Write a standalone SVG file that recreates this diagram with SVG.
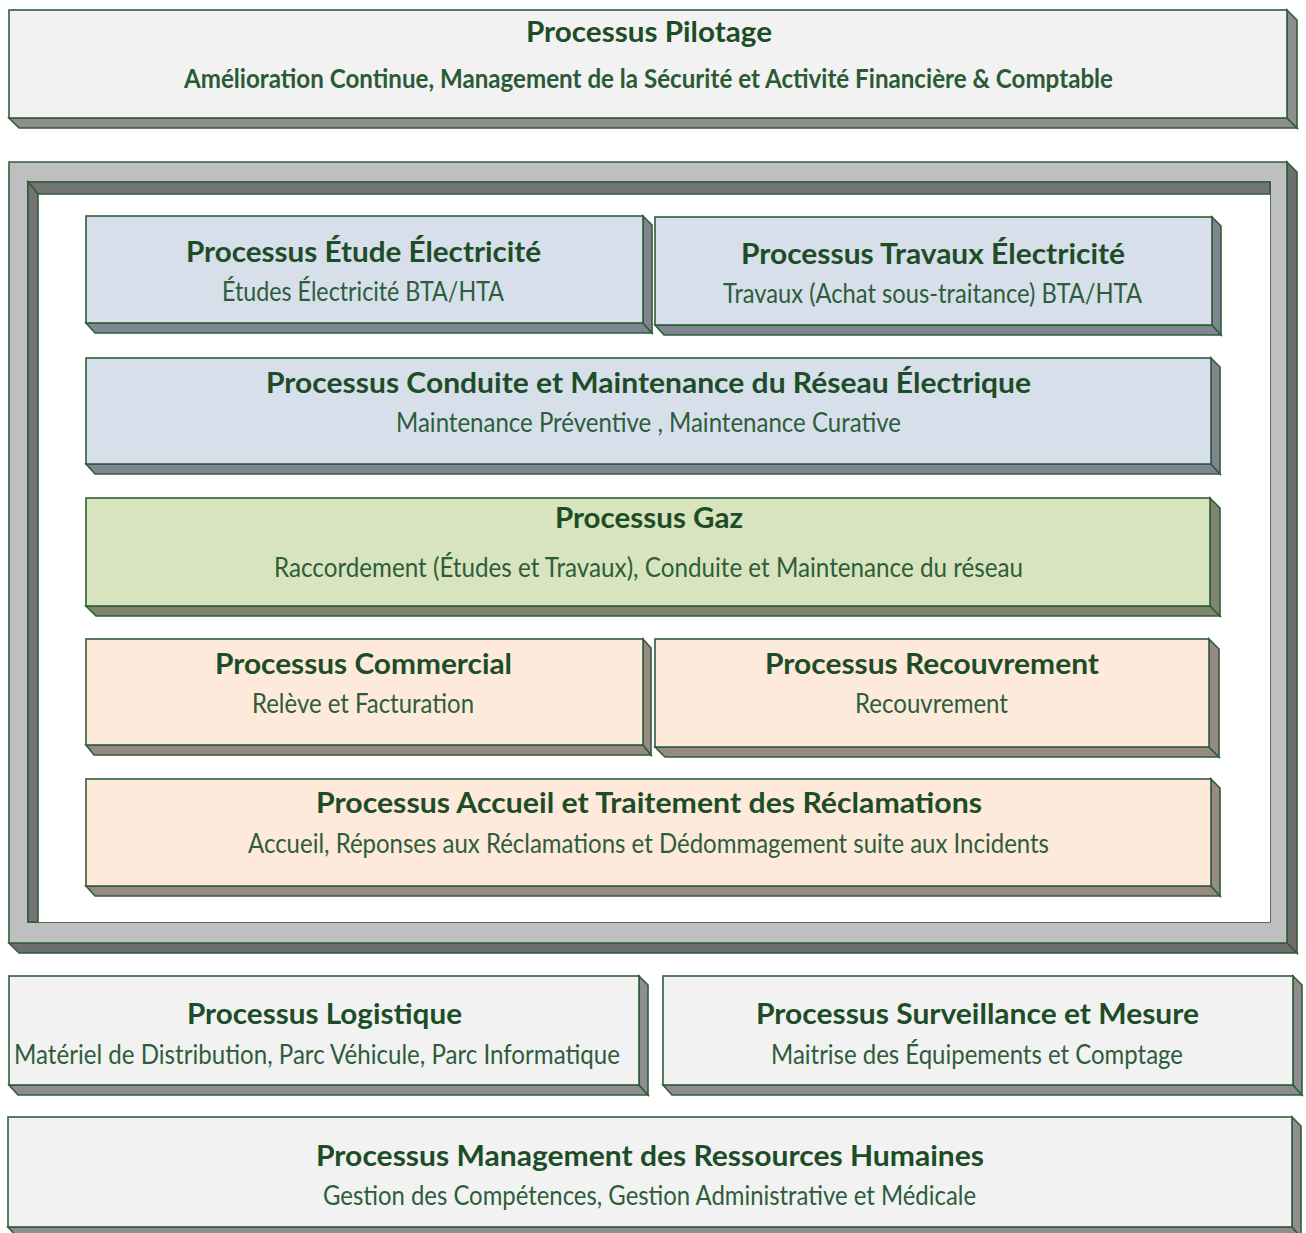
<svg xmlns="http://www.w3.org/2000/svg" width="1306" height="1233" viewBox="0 0 1306 1233">
<style>
  .f { stroke: #2f5d3a; stroke-width: 1.6; stroke-linejoin: miter; }
  .grey { fill: #f2f2f2; }
  .greyS { fill: #8e8e8e; }
  .blue { fill: #d6dfea; }
  .blueS { fill: #7f8691; }
  .green { fill: #d8e4bd; }
  .greenS { fill: #7e8670; }
  .peach { fill: #fdeadb; }
  .peachS { fill: #968a82; }
  .t { font-family: Lato, "Open Sans", sans-serif; font-weight: 700; font-size: 29px; fill: #1d4d27; text-anchor: middle; }
  .s { font-family: Lato, "Open Sans", sans-serif; font-weight: 400; font-size: 26px; fill: #2d5d3b; text-anchor: middle; }
</style>
<rect width="1306" height="1233" fill="#ffffff"/>

<g id="pilotage">
  <polygon class="f greyS" points="9,118 1287,118 1297,128 19,128"/>
  <polygon class="f greyS" points="1287,10 1297,20 1297,128 1287,118"/>
  <rect class="f grey" x="9" y="10" width="1278" height="108"/>
  <text class="t" x="649" y="42" textLength="246" lengthAdjust="spacingAndGlyphs">Processus Pilotage</text>
  <text class="s" x="648.5" y="88" textLength="929" lengthAdjust="spacingAndGlyphs" style="font-weight:700;fill:#2a5a36">Amélioration Continue, Management de la Sécurité et Activité Financière &amp; Comptable</text>
</g>

<g id="frame">
  <polygon class="f" fill="#6e6e6e" points="9,943 1287,943 1297,953 19,953"/>
  <polygon class="f" fill="#6e6e6e" points="1287,162 1297,172 1297,953 1287,943"/>
  <path class="f" fill="#bfbfbf" fill-rule="evenodd" d="M9,162 H1287 V943 H9 Z M28,182 V922 H1270 V182 Z"/>
  <rect x="38" y="194" width="1232" height="728" fill="#ffffff"/>
  <polygon class="f" fill="#747474" points="28,182 1270,182 1270,194 38,194"/>
  <polygon class="f" fill="#747474" points="28,182 38,194 38,922 28,922"/>
</g>

<g id="etude">
  <polygon class="f blueS" points="86,323 643,323 652,333 95,333"/>
  <polygon class="f blueS" points="643,216 652,225 652,333 643,323"/>
  <rect class="f blue" x="86" y="216" width="557" height="107"/>
  <text class="t" x="363.5" y="262" textLength="355" lengthAdjust="spacingAndGlyphs">Processus Étude Électricité</text>
  <text class="s" x="363" y="301" textLength="282" lengthAdjust="spacingAndGlyphs">Études Électricité BTA/HTA</text>
</g>

<g id="travaux">
  <polygon class="f blueS" points="655,325 1212,325 1221,335 664,335"/>
  <polygon class="f blueS" points="1212,217 1221,226 1221,335 1212,325"/>
  <rect class="f blue" x="655" y="217" width="557" height="108"/>
  <text class="t" x="933" y="264" textLength="384" lengthAdjust="spacingAndGlyphs">Processus Travaux Électricité</text>
  <text class="s" x="932.5" y="303" textLength="419" lengthAdjust="spacingAndGlyphs">Travaux (Achat sous-traitance) BTA/HTA</text>
</g>

<g id="conduite">
  <polygon class="f blueS" points="86,464 1211,464 1220,474 95,474"/>
  <polygon class="f blueS" points="1211,358 1220,367 1220,474 1211,464"/>
  <rect class="f blue" x="86" y="358" width="1125" height="106"/>
  <text class="t" x="648.5" y="393" textLength="765" lengthAdjust="spacingAndGlyphs">Processus Conduite et Maintenance du Réseau Électrique</text>
  <text class="s" x="648.5" y="432" textLength="505" lengthAdjust="spacingAndGlyphs">Maintenance Préventive , Maintenance Curative</text>
</g>

<g id="gaz">
  <polygon class="f greenS" points="86,606 1210,606 1220,616 96,616"/>
  <polygon class="f greenS" points="1210,498 1220,508 1220,616 1210,606"/>
  <rect class="f green" x="86" y="498" width="1124" height="108"/>
  <text class="t" x="649" y="528" textLength="188" lengthAdjust="spacingAndGlyphs">Processus Gaz</text>
  <text class="s" x="648.5" y="577" textLength="749" lengthAdjust="spacingAndGlyphs">Raccordement (Études et Travaux), Conduite et Maintenance du réseau</text>
</g>

<g id="commercial">
  <polygon class="f peachS" points="86,745 643,745 651,755 94,755"/>
  <polygon class="f peachS" points="643,639 651,648 651,755 643,745"/>
  <rect class="f peach" x="86" y="639" width="557" height="106"/>
  <text class="t" x="363.5" y="674" textLength="297" lengthAdjust="spacingAndGlyphs">Processus Commercial</text>
  <text class="s" x="363" y="713" textLength="222" lengthAdjust="spacingAndGlyphs">Relève et Facturation</text>
</g>

<g id="recouvrement">
  <polygon class="f peachS" points="655,747 1209,747 1219,757 665,757"/>
  <polygon class="f peachS" points="1209,639 1219,649 1219,757 1209,747"/>
  <rect class="f peach" x="655" y="639" width="554" height="108"/>
  <text class="t" x="932" y="674" textLength="334" lengthAdjust="spacingAndGlyphs">Processus Recouvrement</text>
  <text class="s" x="931.5" y="713" textLength="153" lengthAdjust="spacingAndGlyphs">Recouvrement</text>
</g>

<g id="accueil">
  <polygon class="f peachS" points="86,886 1211,886 1220,896 95,896"/>
  <polygon class="f peachS" points="1211,779 1220,788 1220,896 1211,886"/>
  <rect class="f peach" x="86" y="779" width="1125" height="107"/>
  <text class="t" x="649" y="813" textLength="666" lengthAdjust="spacingAndGlyphs">Processus Accueil et Traitement des Réclamations</text>
  <text class="s" x="648.5" y="853" textLength="801" lengthAdjust="spacingAndGlyphs">Accueil, Réponses aux Réclamations et Dédommagement suite aux Incidents</text>
</g>

<g id="logistique">
  <polygon class="f greyS" points="9,1085 639,1085 648,1095 18,1095"/>
  <polygon class="f greyS" points="639,976 648,985 648,1095 639,1085"/>
  <rect class="f grey" x="9" y="976" width="630" height="109"/>
  <text class="t" x="324.5" y="1024" textLength="275" lengthAdjust="spacingAndGlyphs">Processus Logistique</text>
  <text class="s" x="317" y="1064" textLength="606" lengthAdjust="spacingAndGlyphs">Matériel de Distribution, Parc Véhicule, Parc Informatique</text>
</g>

<g id="surveillance">
  <polygon class="f greyS" points="663,1085 1293,1085 1302,1095 672,1095"/>
  <polygon class="f greyS" points="1293,976 1302,985 1302,1095 1293,1085"/>
  <rect class="f grey" x="663" y="976" width="630" height="109"/>
  <text class="t" x="977.5" y="1024" textLength="443" lengthAdjust="spacingAndGlyphs">Processus Surveillance et Mesure</text>
  <text class="s" x="977" y="1064" textLength="412" lengthAdjust="spacingAndGlyphs">Maitrise des Équipements et Comptage</text>
</g>

<g id="rh">
  <polygon class="f greyS" points="8,1227 1292,1227 1301,1237 17,1237"/>
  <polygon class="f greyS" points="1292,1117 1301,1126 1301,1237 1292,1227"/>
  <rect class="f grey" x="8" y="1117" width="1284" height="110"/>
  <text class="t" x="650" y="1166" textLength="668" lengthAdjust="spacingAndGlyphs">Processus Management des Ressources Humaines</text>
  <text class="s" x="649.5" y="1205" textLength="653" lengthAdjust="spacingAndGlyphs">Gestion des Compétences, Gestion Administrative et Médicale</text>
</g>

<g id="connectors"></g>
</svg>
